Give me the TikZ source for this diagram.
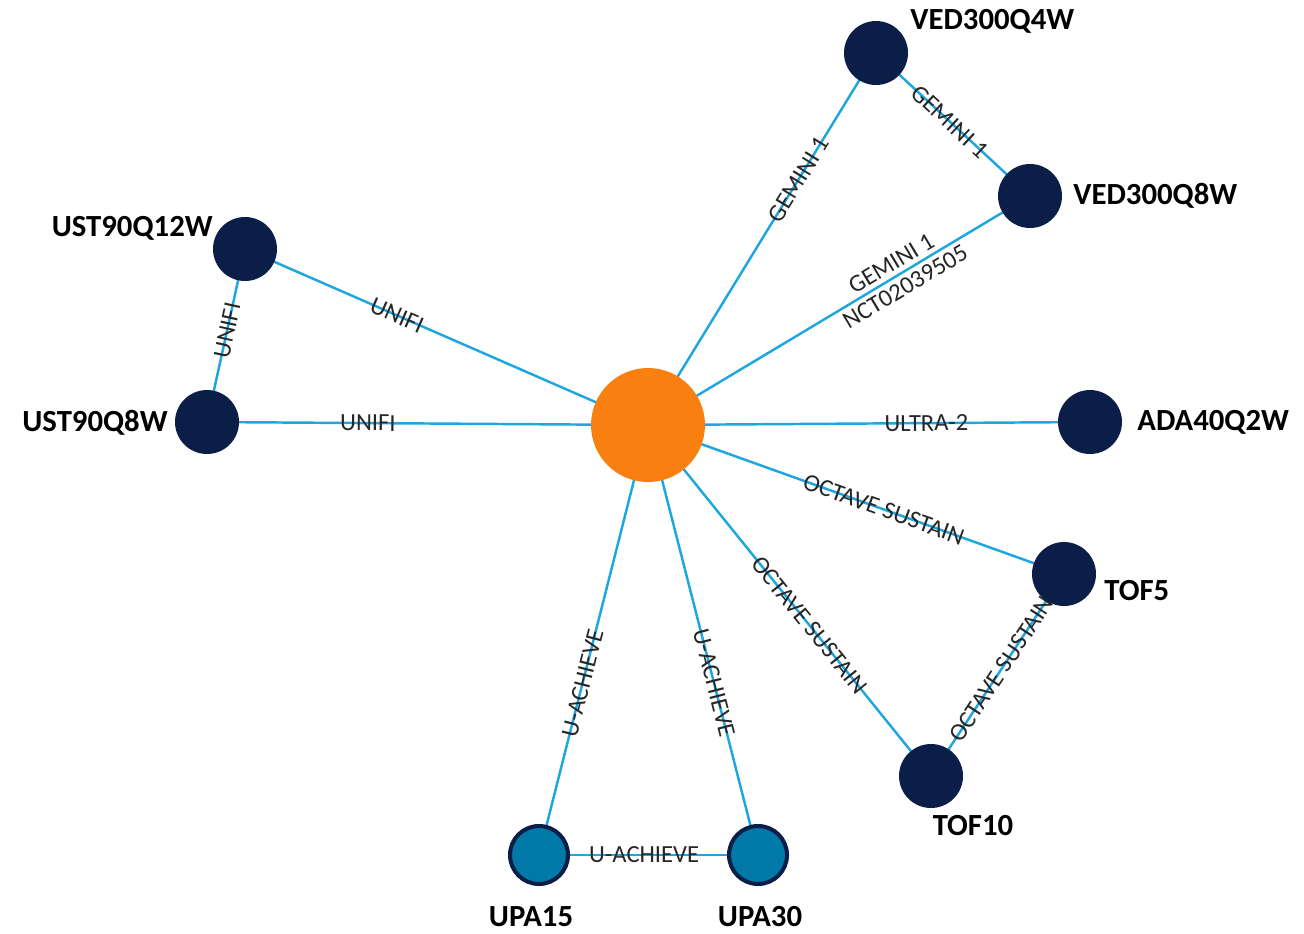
\documentclass[tikz,border=0pt]{standalone}
\usepackage{fontspec}
\setmainfont{Carlito}
\usetikzlibrary{backgrounds}
\definecolor{navy}{HTML}{0A1E48}
\definecolor{orangec}{HTML}{F98010}
\definecolor{tealc}{HTML}{0079A8}
\definecolor{edgeblue}{HTML}{1DA6E0}
\begin{document}
\begin{tikzpicture}[x={(0.02cm,0)}, y={(0,-0.02cm)},
  hub/.style={circle, fill=orangec, minimum size=2.28cm, inner sep=0pt},
  dnode/.style={circle, fill=navy, minimum size=1.28cm, inner sep=0pt},
  unode/.style={circle, fill=tealc, draw=navy, line width=2.3pt, minimum size=1.16cm, inner sep=0pt},
  nlabel/.style={font=\fontsize{17.5}{20}\selectfont\bfseries, text=black, inner sep=0pt},
  link/.style={draw=edgeblue, line width=1.4pt},
  elabel/.style={font=\fontsize{14}{15.5}\selectfont, text=black!85, sloped, inner sep=0pt, align=center}]
\useasboundingbox (0,0) rectangle (1304,933);
% nodes
\node[hub] (C) at (648,425) {};
\node[dnode] (Q4) at (876,53) {};
\node[dnode] (Q8V) at (1030,196) {};
\node[dnode] (Q12) at (245,249) {};
\node[dnode] (Q8U) at (207,422) {};
\node[dnode] (ADA) at (1090,422) {};
\node[dnode] (T5) at (1064,574) {};
\node[dnode] (T10) at (931,776) {};
\node[unode] (U15) at (539,855) {};
\node[unode] (U30) at (758,855) {};
% node labels
\node[nlabel, anchor=west] (lQ4) at (910,21) {VED300Q4W};
\node[nlabel, anchor=west] (lQ8V) at (1073,196) {VED300Q8W};
\node[nlabel, anchor=east] (lQ12) at (213,228) {UST90Q12W};
\node[nlabel, anchor=east] (lQ8U) at (168,423) {UST90Q8W};
\node[nlabel, anchor=west] (lADA) at (1137,422) {ADA40Q2W};
\node[nlabel, anchor=west] (lT5) at (1104,591) {TOF5};
\node[nlabel] (lT10) at (973,826) {TOF10};
\node[nlabel] (lU15) at (531,917) {UPA15};
\node[nlabel] (lU30) at (760,917) {UPA30};
% edges
\begin{scope}[on background layer]
\draw[link] (C.center) -- node[elabel, pos=0.623] {UNIFI} (Q12.center);
\draw[link] (C.center) -- node[elabel, pos=0.635] {UNIFI} (Q8U.center);
\draw[link] (Q8U.center) -- node[elabel, pos=0.53] {UNIFI} (Q12.center);
\draw[link] (C.center) -- node[elabel, pos=0.66] {GEMINI 1} (Q4.center);
\draw[link] (Q4.center) -- node[elabel, pos=0.48] {GEMINI 1} (Q8V.center);
\draw[link] (C.center) -- node[elabel, pos=0.655] {GEMINI 1\\NCT02039505} (Q8V.center);
\draw[link] (C.center) -- node[elabel, pos=0.63] {ULTRA-2} (ADA.center);
\draw[link] (C.center) -- node[elabel, pos=0.567] {OCTAVE SUSTAIN} (T5.center);
\draw[link] (C.center) -- node[elabel, pos=0.57] {OCTAVE SUSTAIN} (T10.center);
\draw[link] (T10.center) -- node[elabel, pos=0.53] {OCTAVE SUSTAIN} (T5.center);
\draw[link] (C.center) -- node[elabel, pos=0.6] {U-ACHIEVE} (U15.center);
\draw[link] (C.center) -- node[elabel, pos=0.6] {U-ACHIEVE} (U30.center);
\draw[link] (U15.center) -- node[elabel, pos=0.48] {U-ACHIEVE} (U30.center);
\end{scope}
\end{tikzpicture}
\end{document}
